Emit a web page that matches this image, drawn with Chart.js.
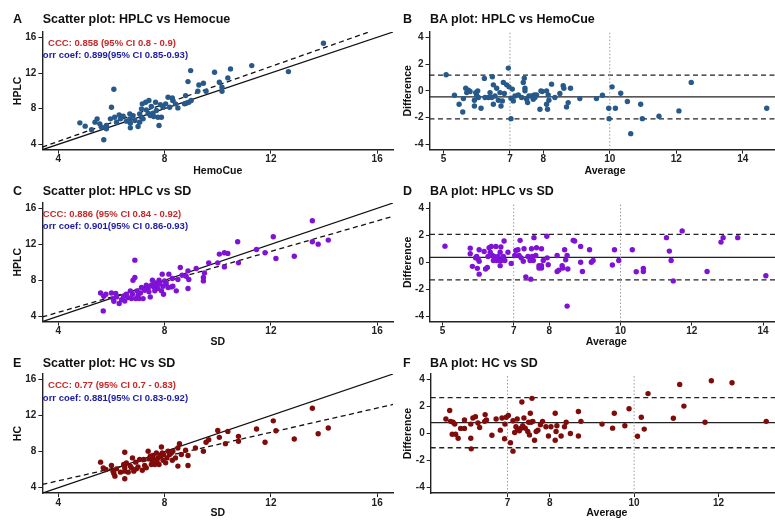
<!DOCTYPE html>
<html>
<head>
<meta charset="utf-8">
<script src="https://cdn.jsdelivr.net/npm/chart.js@4.4.1/dist/chart.umd.min.js"></script>
<style>
  html, body { margin: 0; padding: 0; background: #fff; overflow: hidden; }
  body { width: 775px; height: 520px; position: relative; font-family: 'Liberation Sans', Arial, sans-serif; }
  .box { position: absolute; }
  .lbl { position: absolute; font-weight: bold; font-size: 12.5px; color: #111; line-height: 14px; white-space: nowrap; }
</style>
</head>
<body>
<script>
// ---- data ----
// A: [HemoCue, HPLC]
const panelA = [[4.81,6.41],[5.01,6.04],[5.25,5.63],[5.38,6.49],[5.46,6.86],[5.56,6.3],[5.63,5.93],[5.71,4.51],[5.81,6.11],[5.81,5.74],
  [5.96,6.86],[6.0,8.16],[6.09,10.18],[6.12,7.04],[6.19,6.49],[6.29,7.31],[6.34,6.86],[6.44,7.16],[6.56,6.6],[6.69,7.42],
  [6.69,6.86],[6.71,6.37],[6.71,5.85],[6.81,7.2],[6.88,6.67],[7.0,6.0],[7.06,7.42],[7.06,6.49],[7.13,7.98],[7.13,7.04],
  [7.16,8.54],[7.19,6.86],[7.29,8.72],[7.31,7.87],[7.38,7.49],[7.41,8.91],[7.46,7.23],[7.5,8.24],[7.56,7.49],[7.59,7.12],
  [7.66,8.72],[7.69,7.79],[7.75,7.04],[7.79,6.11],[7.84,8.46],[7.88,7.04],[7.94,8.16],[8.04,8.54],[8.13,9.28],[8.19,8.16],
  [8.29,9.21],[8.31,8.91],[8.41,8.54],[8.5,8.09],[8.75,8.54],[8.79,9.47],[8.81,8.61],[8.88,11.04],[8.91,8.72],[8.98,12.27],
  [9.0,8.91],[9.25,9.96],[9.29,10.66],[9.46,10.85],[9.56,9.96],[9.88,12.08],[10.06,10.96],[10.16,10.4],[10.16,9.96],[10.38,11.45],
  [10.48,12.46],[11.28,12.83],[12.66,12.16],[13.98,15.33]];

// B: [Average, Difference]
const panelB = [[5.08,1.2],[5.33,-0.33],[5.47,-1.0],[5.58,-1.58],[5.6,-0.58],[5.67,0.2],[5.7,-0.13],[5.75,0.05],[5.8,-0.05],[5.93,-0.7],
  [5.93,-1.13],[5.97,-0.13],[6.0,-0.33],[6.03,0],[6.05,-0.5],[6.13,-1.3],[6.23,0.93],[6.25,-0.5],[6.35,-0.5],[6.4,-0.13],
  [6.45,-0.5],[6.47,1.05],[6.5,0.45],[6.5,-1.0],[6.55,-0.38],[6.6,0.2],[6.65,-0.7],[6.7,-0.13],[6.73,-1.13],[6.77,-0.75],
  [6.8,0.63],[6.83,-0.2],[6.9,0.45],[6.95,1.7],[6.97,0.3],[7.03,-0.55],[7.03,-2.08],[7.07,0.13],[7.1,-0.75],[7.15,-0.38],
  [7.25,-0.3],[7.35,-0.5],[7.4,0.63],[7.43,0.95],[7.45,0.2],[7.45,0],[7.5,-0.63],[7.53,-0.88],[7.57,-0.38],[7.65,-0.38],
  [7.7,-0.63],[7.73,-0.3],[7.75,-0.5],[7.8,-0.3],[7.9,-1.38],[7.93,0],[7.97,-0.05],[8.1,0],[8.1,-1.0],[8.13,-1.38],
  [8.15,-0.3],[8.17,-0.7],[8.25,0.5],[8.35,-0.5],[8.5,-0.2],[8.6,0.38],[8.62,0.2],[8.7,-1.2],[8.75,-0.88],[8.82,0.2],
  [9.1,-0.58],[9.6,-0.58],[9.78,-0.33],[9.97,-1.3],[9.98,-2.08],[10.07,0.3],[10.17,-1.3],[10.33,-0.18],[10.53,-0.8],[10.63,-3.2],
  [10.93,-1.0],[10.98,-2.08],[11.48,-1.9],[12.08,-1.5],[12.45,0.63],[14.72,-1.3]];

// C: [SD, HPLC]
const panelC = [[5.59,6.59],[5.69,4.59],[5.71,6.22],[5.79,6.45],[6.0,6.59],[6.06,5.96],[6.09,5.67],[6.16,6.52],[6.19,6.15],[6.29,5.41],
  [6.38,5.85],[6.46,6.22],[6.5,5.7],[6.56,6.45],[6.63,6.07],[6.71,6.82],[6.75,5.96],[6.79,6.45],[6.81,8.0],[6.88,10.24],
  [6.88,8.3],[6.91,5.96],[6.96,6.82],[7.0,6.33],[7.04,5.96],[7.09,6.59],[7.13,7.19],[7.19,5.96],[7.25,6.89],[7.31,7.45],
  [7.38,7.08],[7.41,6.71],[7.46,6.15],[7.5,7.45],[7.54,8.0],[7.59,7.26],[7.63,6.82],[7.66,7.71],[7.69,7.45],[7.75,7.08],
  [7.79,8.0],[7.81,7.64],[7.88,6.82],[7.91,8.68],[7.94,7.34],[7.96,6.45],[8.0,7.93],[8.06,7.64],[8.13,7.19],[8.16,8.68],
  [8.25,7.26],[8.29,8.19],[8.31,7.34],[8.44,6.82],[8.5,8.08],[8.59,9.42],[8.66,8.57],[8.81,8.45],[8.88,9.05],[8.88,7.08],
  [8.91,8.08],[9.19,9.31],[9.46,7.93],[9.46,8.3],[9.5,8.82],[9.66,9.94],[10.0,9.94],[10.06,10.91],[10.25,9.49],[10.25,11.06],
  [10.38,10.99],[10.75,12.28],[10.78,9.94],[11.46,11.43],[11.78,11.06],[12.09,12.84],[12.19,10.42],[12.88,10.68],[13.56,14.62],[13.56,12.28],
  [13.78,12.02],[14.16,12.47]];

// D: [Average, Difference]
const panelD = [[5.07,1.2],[5.78,1.05],[5.78,0.63],[5.84,-0.3],[5.93,0.33],[5.96,0.43],[5.98,-0.45],[6.0,0.25],[6.03,0.93],[6.03,0.08],
  [6.03,-0.88],[6.17,0.8],[6.21,-0.5],[6.26,-0.38],[6.28,0.43],[6.31,1.08],[6.34,0.75],[6.37,1.18],[6.4,0.5],[6.43,0.13],
  [6.45,0.43],[6.5,1.18],[6.52,0.13],[6.56,0.43],[6.59,0.13],[6.62,0.75],[6.62,-0.25],[6.64,1.13],[6.65,0.13],[6.71,0.43],
  [6.73,1.58],[6.75,0.13],[6.84,0.75],[6.93,-0.08],[7.03,0.5],[7.06,0.88],[7.12,0.93],[7.15,0.5],[7.18,1.63],[7.21,0.33],
  [7.27,0.08],[7.29,1.0],[7.34,-1.08],[7.4,0.43],[7.46,0.13],[7.48,-1.25],[7.5,1.0],[7.52,0.43],[7.55,0.13],[7.57,1.83],
  [7.62,0.5],[7.64,1.08],[7.71,-0.25],[7.71,-0.43],[7.78,-0.25],[7.78,-0.43],[7.78,1.0],[7.83,0.13],[7.93,1.93],[7.94,0.33],
  [7.97,-0.18],[8.22,0.5],[8.22,-0.68],[8.27,-0.58],[8.36,-0.25],[8.38,-0.43],[8.43,0.93],[8.46,0.18],[8.5,0.5],[8.52,-0.5],
  [8.5,-3.25],[8.67,1.63],[8.71,1.58],[8.88,1.18],[8.88,0],[8.93,-0.68],[9.13,0.93],[9.18,0],[9.23,0.13],[9.77,-0.2],
  [9.83,0.93],[9.95,0.13],[10.33,0.93],[10.44,-0.7],[10.64,-0.45],[10.64,-0.68],[11.29,1.83],[11.37,0.83],[11.42,0.13],[11.48,-1.38],
  [11.73,2.33],[12.43,-0.68],[12.82,1.5],[12.88,1.83],[13.29,1.83],[14.08,-1.0]];

// E: [SD, HC]
const panelE = [[5.59,6.83],[5.69,6.2],[5.79,6.02],[6.0,6.46],[6.06,5.83],[6.09,5.58],[6.13,5.28],[6.19,6.09],[6.34,5.72],[6.46,6.57],
  [6.5,7.93],[6.5,6.2],[6.5,5.83],[6.5,4.99],[6.56,6.75],[6.63,5.72],[6.71,6.39],[6.75,6.2],[6.79,7.3],[6.84,5.83],
  [6.91,6.83],[6.94,6.09],[7.0,6.31],[7.06,7.12],[7.16,5.94],[7.21,7.12],[7.25,6.46],[7.31,6.2],[7.38,8.04],[7.41,7.19],
  [7.46,7.49],[7.5,6.57],[7.54,6.83],[7.56,7.56],[7.59,7.12],[7.63,6.57],[7.69,7.85],[7.71,6.94],[7.75,7.3],[7.79,6.57],
  [7.84,7.49],[7.88,8.51],[7.91,7.85],[7.94,7.04],[7.96,7.67],[8.04,6.75],[8.09,7.3],[8.13,8.04],[8.19,7.67],[8.25,7.85],
  [8.29,7.04],[8.31,8.04],[8.41,7.3],[8.5,8.4],[8.5,6.39],[8.56,8.88],[8.63,7.67],[8.79,8.15],[8.88,7.56],[8.88,6.46],
  [9.16,8.4],[9.46,8.04],[9.56,9.03],[9.66,9.32],[10.0,10.35],[10.06,9.58],[10.29,8.88],[10.38,10.24],[10.78,9.69],[10.78,9.14],
  [11.46,10.5],[11.78,9.03],[12.09,11.41],[12.19,10.31],[12.88,9.39],[13.56,12.81],[13.78,9.98],[14.16,10.61]];

// F: [Average, Difference]
const panelF = [[5.54,1.08],[5.63,1.7],[5.65,0.9],[5.71,0.83],[5.69,-0.05],[5.75,0.7],[5.77,-0.05],[5.83,-0.35],[5.89,0.38],[5.98,0.38],
  [5.98,1.0],[6.13,0.7],[6.13,-0.35],[6.14,-1.13],[6.18,1.15],[6.24,1.25],[6.3,0.78],[6.34,0.45],[6.46,0.9],[6.47,1.4],
  [6.5,1.0],[6.63,-0.13],[6.73,1.08],[6.83,0.25],[6.87,1.15],[6.93,-0.38],[6.94,0.7],[6.97,1.2],[7.02,1.33],[7.07,-0.68],
  [7.13,-1.3],[7.13,0.95],[7.17,0.08],[7.2,0.5],[7.23,1.08],[7.24,0.33],[7.28,0.2],[7.32,0.4],[7.34,2.33],[7.36,0.58],
  [7.39,1.15],[7.42,0.4],[7.48,0.15],[7.5,0.83],[7.52,-0.1],[7.54,1.5],[7.56,0.83],[7.58,2.6],[7.6,0.9],[7.64,-0.5],
  [7.68,0.15],[7.72,0.25],[7.78,0.65],[7.83,0.9],[7.91,0.5],[7.97,-0.18],[8.03,0.5],[8.13,-0.5],[8.13,1.5],[8.15,0.15],
  [8.17,0.58],[8.27,-0.18],[8.35,0.5],[8.39,0.83],[8.49,0],[8.68,-0.18],[8.68,1.63],[8.74,0.9],[9.24,0.7],[9.49,0.4],
  [9.53,1.5],[9.78,0.58],[9.88,1.83],[10.08,-0.2],[10.17,1.2],[10.24,0.33],[10.33,2.95],[10.93,1.13],[11.08,3.63],[11.18,2.03],
  [11.68,0.83],[11.83,3.9],[12.32,3.75],[13.13,0.9]];

// fitted lines (dashed) in scatter plots: [slope, intercept]
const fitA = [1.05, 0.13];
const fitC = [0.848, 1.04];
const fitE = [0.672, 2.07];

// Bland-Altman lines: [mean, upper limit, lower limit]
const baB = [-0.45, 1.17, -2.09];
const baD = [0.37, 2.07, -1.30];
const baF = [0.80, 2.65, -1.05];
const baRefX = [7, 10];

// ticks
const scatterTicks = [4, 8, 12, 16];
const baXTicksBD = [5, 7, 8, 10, 12, 14];
const baXTicksF = [7, 8, 10, 12];
const baYTicks = [-4, -2, 0, 2, 4];

// ---- drawing ----
const FONT = "'Liberation Sans', Arial, sans-serif";
Chart.defaults.font.family = FONT;
Chart.defaults.font.weight = 'bold';

const rows = [
  { t: 31.5, b: 149.2, xh: 27.8, ty: 19 },
  { t: 202.8, b: 321.4, xh: 26.6, ty: 190.7 },
  { t: 373.9, b: 493.0, xh: 26.0, ty: 362.7 }
];

const notePlugin = {
  id: 'notes',
  afterDatasetsDraw(chart, args, opts) {
    if (!opts.lines) return;
    const { ctx, chartArea: a, scales: { x, y } } = chart;
    ctx.save();
    ctx.beginPath();
    ctx.rect(a.left, a.top, a.right - a.left, a.bottom - a.top);
    ctx.clip();
    ctx.font = 'bold 9.5px ' + FONT;
    ctx.textAlign = 'center';
    ctx.textBaseline = 'middle';
    opts.lines.forEach(l => {
      ctx.fillStyle = l.color;
      ctx.fillText(l.text, x.getPixelForValue(l.x), y.getPixelForValue(l.y));
    });
    ctx.restore();
  }
};

function addLabel(text, left, cy) {
  const d = document.createElement('div');
  d.className = 'lbl';
  d.textContent = text;
  d.style.left = left + 'px';
  d.style.top = (cy - 7) + 'px';
  document.body.appendChild(d);
}

function axis(min, max, ticks, title, titlePad, tickPad, fit) {
  return {
    type: 'linear', min, max,
    afterBuildTicks: s => { s.ticks = ticks.map(v => ({ value: v })); },
    afterFit: fit,
    border: { display: true, color: '#222', width: 1.4 },
    grid: { drawOnChartArea: false, drawTicks: true, tickLength: 4, tickColor: '#222', tickWidth: 1 },
    ticks: { color: '#222', font: { size: 10, weight: 'bold' }, padding: tickPad, autoSkip: false, maxRotation: 0, callback: v => String(v) },
    title: { display: true, text: title, color: '#111', font: { size: 10.5, weight: 'bold' }, padding: { top: titlePad, bottom: 0 } }
  };
}

function line(x0, y0, x1, y1, color, width, dash) {
  return {
    type: 'line', showLine: true, data: [{ x: x0, y: y0 }, { x: x1, y: y1 }],
    borderColor: color, borderWidth: width, borderDash: dash || [], pointRadius: 0, fill: false, order: 1
  };
}

function panel(p) {
  const row = rows[p.row];
  const bx = p.col === 0 ? 0 : 392;
  const bw = 400;
  const top = row.t - 30;
  const bh = (row.b - row.t) + 30 + row.xh + 2;

  const box = document.createElement('div');
  box.className = 'box';
  box.style.left = bx + 'px';
  box.style.top = top + 'px';
  box.style.width = bw + 'px';
  box.style.height = bh + 'px';
  const canvas = document.createElement('canvas');
  box.appendChild(canvas);
  document.body.appendChild(box);

  addLabel(p.letter, p.col === 0 ? 13 : 403, row.ty);
  addLabel(p.title, p.col === 0 ? 42.7 : 430, row.ty);

  const pts = {
    type: 'scatter', data: p.points.map(([x, y]) => ({ x, y })),
    backgroundColor: p.color, borderWidth: 0, pointRadius: 2.7, order: 0
  };
  const [xmin, xmax] = p.xRange;
  const [ymin, ymax] = p.yRange;
  let datasets;
  if (p.kind === 'scatter') {
    const [m, c] = p.fit;
    datasets = [
      line(xmin, xmin, xmax, xmax, '#111', 1.3),
      line(xmin, m * xmin + c, xmax, m * xmax + c, '#111', 1.3, [5, 3.5]),
      pts
    ];
  } else {
    const [mean, up, lo] = p.ba;
    datasets = baRefX.map(v => line(v, ymin, v, ymax, '#9a9a9a', 1, [1.5, 2]))
      .concat([
        line(xmin, mean, xmax, mean, '#222', 1.3),
        line(xmin, up, xmax, up, '#222', 1.3, [5, 3.5]),
        line(xmin, lo, xmax, lo, '#222', 1.3, [5, 3.5]),
        pts
      ]);
  }

  new Chart(canvas, {
    type: 'scatter',
    data: { datasets },
    options: {
      responsive: true, maintainAspectRatio: false, animation: false,
      layout: { padding: { left: 0, top: 30, right: bx + bw - p.r, bottom: 2 } },
      plugins: {
        legend: { display: false }, tooltip: { enabled: false },
        notes: { lines: p.notes || null }
      },
      scales: {
        x: axis(xmin, xmax, p.xTicks, p.xTitle, 0, 0, s => { s.height = row.xh; }),
        y: axis(ymin, ymax, p.yTicks, p.yTitle, p.col === 0 ? 12 : 9.4, 2, s => { s.width = p.l - bx; })
      }
    },
    plugins: [notePlugin]
  });
}

function notes(ccc, corr) {
  return [
    { text: ccc, x: 6.02, y: 15.35, color: '#c62828' },
    { text: corr, x: 6.02, y: 13.95, color: '#1b1ba6' }
  ];
}

const BLUE = '#27598a', PURPLE = '#7f12d6', DARKRED = '#800b0b';

panel({ letter: 'A', title: 'Scatter plot: HPLC vs Hemocue', row: 0, col: 0, kind: 'scatter', l: 42.4, r: 393.1,
  points: panelA, color: BLUE, fit: fitA, xRange: [3.4, 16.6], yRange: [3.4, 16.6], xTicks: scatterTicks, yTicks: scatterTicks,
  xTitle: 'HemoCue', yTitle: 'HPLC', notes: notes('CCC: 0.858 (95% CI 0.8 - 0.9)', 'Corr coef: 0.899(95% CI 0.85-0.93)') });

panel({ letter: 'B', title: 'BA plot: HPLC vs HemoCue', row: 0, col: 1, kind: 'ba', l: 429.5, r: 780.7,
  points: panelB, color: BLUE, ba: baB, xRange: [4.58, 15.14], yRange: [-4.4, 4.4], xTicks: baXTicksBD, yTicks: baYTicks,
  xTitle: 'Average', yTitle: 'Difference' });

panel({ letter: 'C', title: 'Scatter plot: HPLC vs SD', row: 1, col: 0, kind: 'scatter', l: 42.4, r: 393.1,
  points: panelC, color: PURPLE, fit: fitC, xRange: [3.4, 16.6], yRange: [3.4, 16.6], xTicks: scatterTicks, yTicks: scatterTicks,
  xTitle: 'SD', yTitle: 'HPLC', notes: notes('CCC: 0.886 (95% CI 0.84 - 0.92)', 'Corr coef: 0.901(95% CI 0.86-0.93)') });

panel({ letter: 'D', title: 'BA plot: HPLC vs SD', row: 1, col: 1, kind: 'ba', l: 430, r: 782.6,
  points: panelD, color: PURPLE, ba: baD, xRange: [4.65, 14.55], yRange: [-4.4, 4.4], xTicks: baXTicksBD, yTicks: baYTicks,
  xTitle: 'Average', yTitle: 'Difference' });

panel({ letter: 'E', title: 'Scatter plot: HC vs SD', row: 2, col: 0, kind: 'scatter', l: 42.4, r: 393.1,
  points: panelE, color: DARKRED, fit: fitE, xRange: [3.4, 16.6], yRange: [3.4, 16.6], xTicks: scatterTicks, yTicks: scatterTicks,
  xTitle: 'SD', yTitle: 'HC', notes: notes('CCC: 0.77 (95% CI 0.7 - 0.83)', 'Corr coef: 0.881(95% CI 0.83-0.92)') });

panel({ letter: 'F', title: 'BA plot: HC vs SD', row: 2, col: 1, kind: 'ba', l: 430.7, r: 783.1,
  points: panelF, color: DARKRED, ba: baF, xRange: [5.18, 13.53], yRange: [-4.4, 4.4], xTicks: baXTicksF, yTicks: baYTicks,
  xTitle: 'Average', yTitle: 'Difference' });
</script>
</body>
</html>
